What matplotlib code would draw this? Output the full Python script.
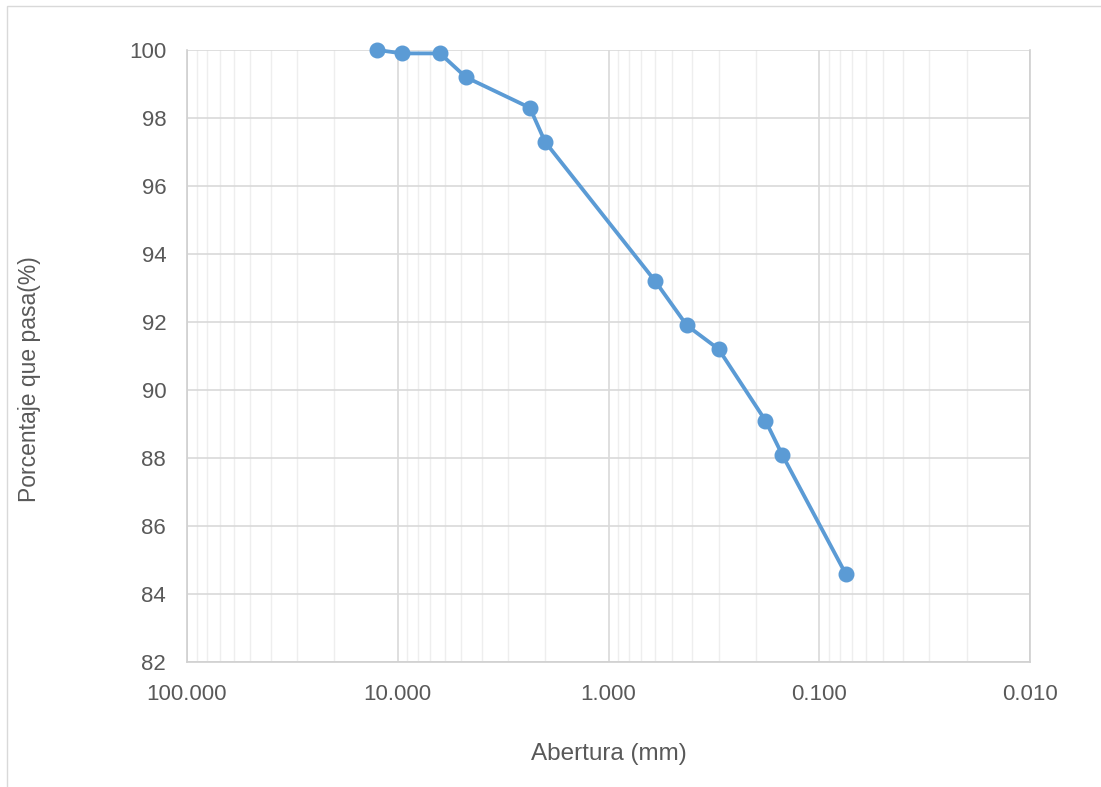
import matplotlib.pyplot as plt
from matplotlib.ticker import LogLocator, FixedLocator, NullFormatter
from matplotlib.patches import Rectangle

# Sieve openings (mm) and percent passing
abertura = [12.5, 9.5, 6.3, 4.75, 2.36, 2.0, 0.6, 0.425, 0.3, 0.18, 0.15, 0.075]
pasa = [100.0, 99.9, 99.9, 99.2, 98.3, 97.3, 93.2, 91.9, 91.2, 89.1, 88.1, 84.6]

x_ticks = [100, 10, 1, 0.1, 0.01]
x_labels = ['100.000', '10.000', '1.000', '0.100', '0.010']
y_ticks = list(range(82, 101, 2))

plt.rcParams['font.family'] = ['Liberation Sans', 'DejaVu Sans']

fig = plt.figure(figsize=(11.01, 7.87), dpi=100)
ax = fig.add_axes([187 / 1101, 1 - 662 / 787, (1030 - 187) / 1101, (662 - 50) / 787])

# outer chart border
fig.patches.append(Rectangle((7 / 1101, -0.05), 1.1, 1 - 6 / 787 + 0.05, transform=fig.transFigure,
                             fill=False, edgecolor='#d9d9d9', linewidth=1))

ax.plot(abertura, pasa, color='#5b9bd5', linewidth=2.75, marker='o', markersize=10.5, zorder=3,
        clip_on=False)

ax.set_xscale('log')
ax.set_xlim(100, 0.01)
ax.set_ylim(82, 100)

ax.xaxis.set_major_locator(FixedLocator(x_ticks))
ax.set_xticklabels(x_labels)
ax.xaxis.set_minor_locator(LogLocator(base=10, subs=range(2, 10)))
ax.xaxis.set_minor_formatter(NullFormatter())
ax.set_yticks(y_ticks)

ax.grid(which='major', color='#d9d9d9', linewidth=1.2)
ax.grid(which='minor', axis='x', color='#eeeeee', linewidth=1)
ax.set_axisbelow(True)

for side in ['left', 'bottom', 'right', 'top']:
    ax.spines[side].set_color('#d0d0d0')
    ax.spines[side].set_linewidth(1.2)
ax.spines['top'].set_visible(False)

ax.tick_params(which='both', length=0, labelsize=16, colors='#595959')
ax.tick_params(axis='x', pad=16)
ax.tick_params(axis='y', pad=15)

ax.set_xlabel('Abertura (mm)', fontsize=17.5, color='#595959', labelpad=27)
ax.set_ylabel('Porcentaje que pasa(%)', fontsize=16.5, color='#595959')
ax.yaxis.set_label_coords(-0.173, 0.4624)

fig.savefig('out.png', dpi=100)
